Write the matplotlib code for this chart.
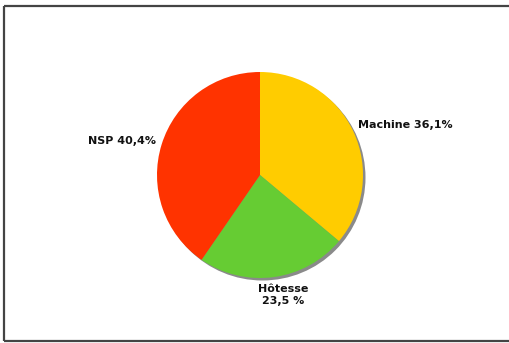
import matplotlib
matplotlib.use("Agg")
import matplotlib.pyplot as plt
from matplotlib.patches import Circle

labels = ["Machine 36,1%", "Hôtesse\n23,5 %", "NSP 40,4%"]
values = [36.1, 23.5, 40.4]
colors = ["#FFCC00", "#66CC33", "#FF3300"]

W, H = 509, 343
fig = plt.figure(figsize=(W / 100, H / 100), dpi=100)
ax = fig.add_axes([0, 0, 1, 1])

# outer frame: left, top and bottom edges only (right side runs off the canvas)
frame_kw = dict(color="#444444", linewidth=1.6, solid_capstyle="butt")
ax.plot([4.5, 4.5], [2.0, 337.0], **frame_kw)
ax.plot([4.5, W + 5], [337.0, 337.0], **frame_kw)
ax.plot([4.5, W + 5], [2.0, 2.0], **frame_kw)

cx, cy, r = 260.0, 168.0, 103.0

# drop shadow behind the pie
ax.add_patch(Circle((cx + 2.5, cy - 2.5), r, facecolor="#8a8a8a",
                    edgecolor="none", zorder=1))

wedges, _ = ax.pie(values, colors=colors, startangle=90, counterclock=False,
                   center=(cx, cy), radius=r, frame=True,
                   wedgeprops=dict(linewidth=0))
for w in wedges:
    w.set_zorder(2)

ax.set_xlim(0, W)
ax.set_ylim(0, H)
ax.set_aspect("equal")
ax.axis("off")

font = dict(fontsize=8, fontweight="bold", family="DejaVu Sans", color="#111111")
ax.text(358, 218, labels[0], ha="left", va="center", **font)
ax.text(283, 48, labels[1], ha="center", va="center", linespacing=1.15, **font)
ax.text(156, 202, labels[2], ha="right", va="center", **font)

fig.savefig("out.png", dpi=100)
